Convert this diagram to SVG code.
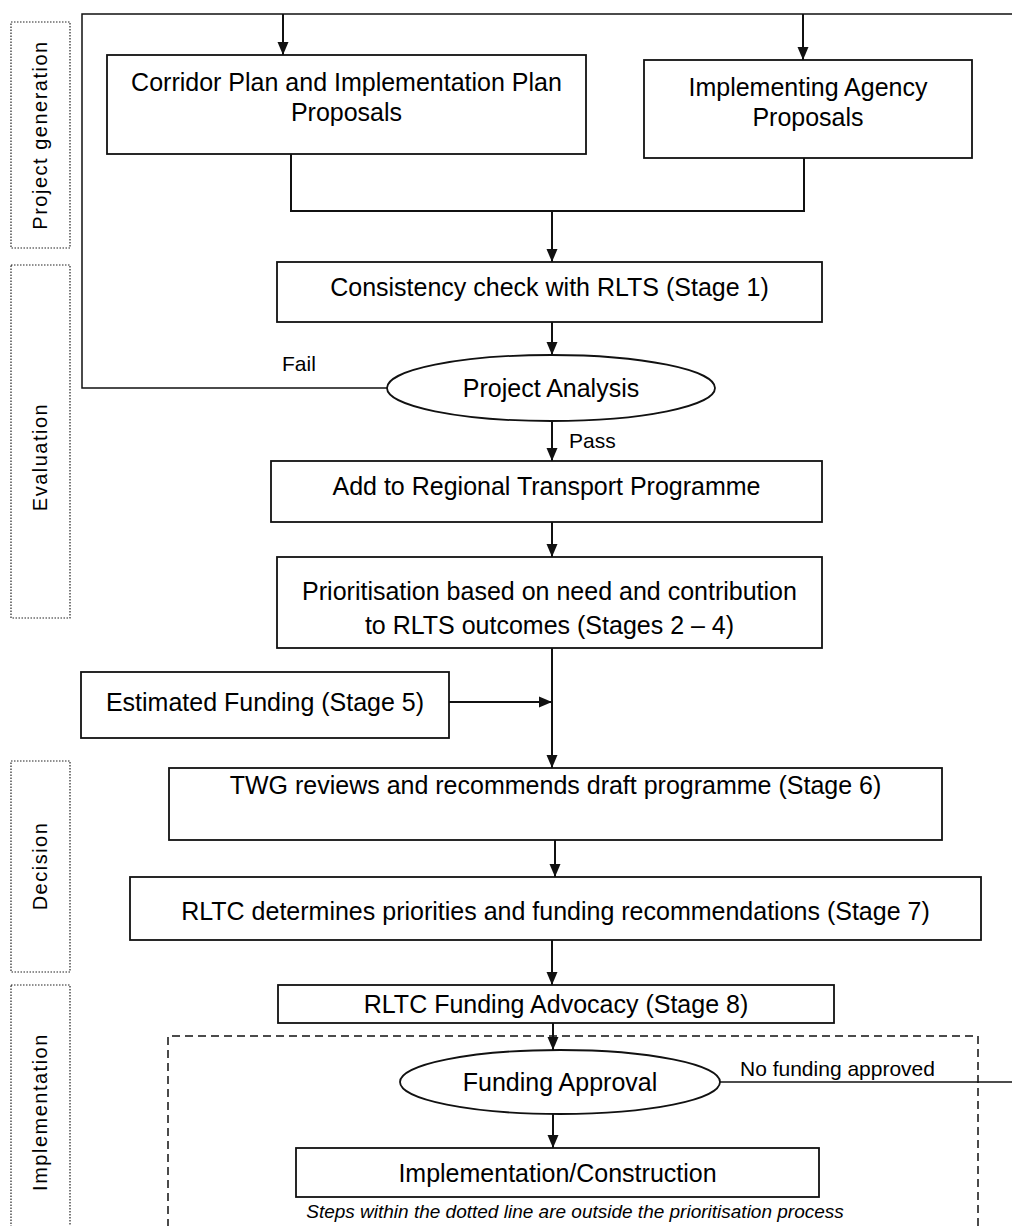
<svg xmlns="http://www.w3.org/2000/svg" width="1012" height="1226" viewBox="0 0 1012 1226">
<style>
.box{fill:#fff;stroke:#111;stroke-width:1.8}
.lbl{fill:none;stroke:#222;stroke-width:1.2;stroke-dasharray:1.5 1.5}
.t{font-family:"Liberation Sans",Arial,sans-serif;font-size:25px;fill:#000;text-anchor:middle}
.s{font-family:"Liberation Sans",Arial,sans-serif;font-size:21px;fill:#000}
.v{font-family:"Liberation Sans",Arial,sans-serif;font-size:20px;letter-spacing:1.5px;fill:#000;text-anchor:middle}
.n{font-family:"Liberation Sans",Arial,sans-serif;font-size:19px;font-style:italic;fill:#000;text-anchor:middle}
.c{fill:none;stroke:#111;stroke-width:2}
.c2{fill:none;stroke:#111;stroke-width:1.5}
.a{fill:none;stroke:#111;stroke-width:2;marker-end:url(#ah)}
</style>
<defs>
<marker id="ah" markerUnits="userSpaceOnUse" markerWidth="13" markerHeight="14" viewBox="0 0 13 14" refX="13" refY="7" orient="auto">
<path d="M0,1.5 L13,7 L0,12.5 Z" fill="#111"/>
</marker>
</defs>

<g id="labels">
<g id="lbl-generation"><rect class="lbl" x="11" y="22" width="59" height="226"/><text class="v" transform="translate(47,135) rotate(-90)">Project generation</text></g>
<g id="lbl-evaluation"><rect class="lbl" x="11" y="265" width="59" height="353"/><text class="v" transform="translate(47,457) rotate(-90)">Evaluation</text></g>
<g id="lbl-decision"><rect class="lbl" x="11" y="761" width="59" height="211"/><text class="v" transform="translate(47,866) rotate(-90)">Decision</text></g>
<g id="lbl-implementation"><rect class="lbl" x="11" y="985" width="59" height="260"/><text class="v" transform="translate(47,1112) rotate(-90)">Implementation</text></g>
</g>

<g id="scope">
<path d="M168,1240 V1036 H978 V1240" fill="none" stroke="#111" stroke-width="1.5" stroke-dasharray="8 5"/>
</g>

<g id="connectors">
<path class="c2" d="M387,388 H82 V14 H1012"/>
<path class="a" d="M283,14 V55"/>
<path class="a" d="M803,14 V60"/>
<path class="c" d="M291,154 V211 H804 V158"/>
<path class="a" d="M552,211 V262"/>
<path class="a" d="M552,322 V355"/>
<path class="a" d="M552,421 V461"/>
<path class="a" d="M552,522 V557"/>
<path class="a" d="M552,648 V768"/>
<path class="a" d="M449,702 H552"/>
<path class="a" d="M555,840 V877"/>
<path class="a" d="M552,940 V985"/>
<path class="a" d="M553,1023 V1050"/>
<path class="a" d="M553,1114 V1148"/>
<path class="c2" d="M720,1082 H1012"/>
<text class="s" x="282" y="371">Fail</text>
<text class="s" x="569" y="448">Pass</text>
<text class="s" x="740" y="1076">No funding approved</text>
</g>

<g id="corridor"><rect class="box" x="107" y="55" width="479" height="99"/><text class="t" x="346.5" y="91">Corridor Plan and Implementation Plan</text><text class="t" x="346.5" y="121">Proposals</text></g>
<g id="agency"><rect class="box" x="644" y="60" width="328" height="98"/><text class="t" x="808" y="96">Implementing Agency</text><text class="t" x="808" y="126">Proposals</text></g>
<g id="consistency"><rect class="box" x="277" y="262" width="545" height="60"/><text class="t" x="549.5" y="296">Consistency check with RLTS (Stage 1)</text></g>
<g id="analysis"><ellipse class="box" cx="551" cy="388" rx="164" ry="33"/><text class="t" x="551" y="397">Project Analysis</text></g>
<g id="add"><rect class="box" x="271" y="461" width="551" height="61"/><text class="t" x="546.5" y="495">Add to Regional Transport Programme</text></g>
<g id="prioritisation"><rect class="box" x="277" y="557" width="545" height="91"/><text class="t" x="549.5" y="600">Prioritisation based on need and contribution</text><text class="t" x="549.5" y="634">to RLTS outcomes (Stages 2 – 4)</text></g>
<g id="funding-est"><rect class="box" x="81" y="672" width="368" height="66"/><text class="t" x="265" y="711">Estimated Funding (Stage 5)</text></g>
<g id="twg"><rect class="box" x="169" y="768" width="773" height="72"/><text class="t" x="555.5" y="794">TWG reviews and recommends draft programme (Stage 6)</text></g>
<g id="rltc"><rect class="box" x="130" y="877" width="851" height="63"/><text class="t" x="555.5" y="920">RLTC determines priorities and funding recommendations (Stage 7)</text></g>
<g id="advocacy"><rect class="box" x="278" y="985" width="556" height="38"/><text class="t" x="556" y="1013">RLTC Funding Advocacy (Stage 8)</text></g>
<g id="approval"><ellipse class="box" cx="560" cy="1082" rx="160" ry="32"/><text class="t" x="560" y="1091">Funding Approval</text></g>
<g id="construction"><rect class="box" x="296" y="1148" width="523" height="49"/><text class="t" x="557.5" y="1182">Implementation/Construction</text></g>
<g id="note"><text class="n" x="575" y="1218">Steps within the dotted line are outside the prioritisation process</text></g>
</svg>
